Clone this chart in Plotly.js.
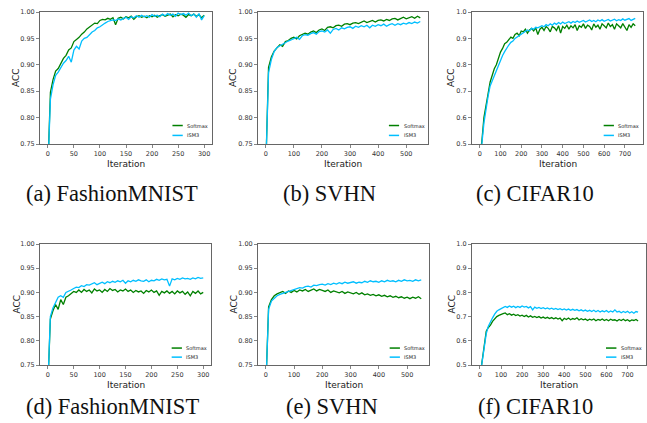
<!DOCTYPE html>
<html>
<head>
<meta charset="utf-8">
<script src="https://cdn.plot.ly/plotly-3.0.1.min.js"></script>
<style>html,body{margin:0;padding:0;background:#fff;}#chart{width:647px;height:423px;}</style>
</head>
<body>
<div id="chart"></div>
<script>
// ---------- DATA ----------
const captions = ["(a) FashionMNIST", "(b) SVHN", "(c) CIFAR10", "(d) FashionMNIST", "(e) SVHN", "(f) CIFAR10"];
const seriesNames = ["Softmax", "ISM3"];
const xTitle = "Iteration";
const yTitle = "ACC";

const iter300 = [0,5,10,15,20,25,30,35,40,45,50,55,60,65,70,75,80,85,90,95,100,105,110,115,120,125,130,135,140,145,150,155,160,165,170,175,180,185,190,195,200,205,210,215,220,225,230,235,240,245,250,255,260,265,270,275,280,285,290,295,300];
const iter550 = [0,10,20,30,40,50,60,70,80,90,100,110,120,130,140,150,160,170,180,190,200,210,220,230,240,250,260,270,280,290,300,310,320,330,340,350,360,370,380,390,400,410,420,430,440,450,460,470,480,490,500,510,520,530,540,550];
const iter750 = [0,10,20,30,40,50,60,70,80,90,100,110,120,130,140,150,160,170,180,190,200,210,220,230,240,250,260,270,280,290,300,310,320,330,340,350,360,370,380,390,400,410,420,430,440,450,460,470,480,490,500,510,520,530,540,550,560,570,580,590,600,610,620,630,640,650,660,670,680,690,700,710,720,730,740,750];

// (a) FashionMNIST
const aSoftmax = [0.700,0.848,0.872,0.888,0.893,0.902,0.912,0.918,0.928,0.932,0.944,0.948,0.952,0.958,0.962,0.968,0.972,0.975,0.979,0.978,0.984,0.986,0.985,0.988,0.986,0.989,0.976,0.988,0.990,0.987,0.991,0.989,0.992,0.986,0.991,0.993,0.990,0.992,0.989,0.993,0.991,0.994,0.990,0.993,0.995,0.992,0.994,0.996,0.991,0.995,0.993,0.996,0.994,0.990,0.995,0.993,0.996,0.992,0.995,0.989,0.994];
const aISM3 = [0.700,0.835,0.862,0.880,0.886,0.895,0.903,0.908,0.916,0.905,0.928,0.935,0.930,0.945,0.950,0.952,0.958,0.962,0.965,0.970,0.972,0.976,0.979,0.982,0.983,0.985,0.984,0.987,0.985,0.988,0.990,0.986,0.991,0.989,0.993,0.990,0.994,0.991,0.993,0.990,0.995,0.992,0.994,0.991,0.996,0.993,0.997,0.994,0.996,0.992,0.998,0.995,0.997,0.994,0.998,0.993,0.996,0.990,0.997,0.985,0.993];
// (b) SVHN
const bSoftmax = [0.700,0.895,0.915,0.926,0.932,0.938,0.935,0.944,0.946,0.950,0.952,0.949,0.955,0.957,0.960,0.958,0.962,0.964,0.961,0.966,0.968,0.965,0.971,0.972,0.970,0.974,0.975,0.973,0.977,0.978,0.976,0.979,0.980,0.978,0.981,0.983,0.980,0.982,0.984,0.981,0.984,0.985,0.983,0.986,0.984,0.987,0.988,0.985,0.988,0.990,0.987,0.989,0.991,0.988,0.992,0.989];
const bISM3 = [0.700,0.885,0.910,0.925,0.933,0.936,0.940,0.942,0.945,0.947,0.950,0.952,0.948,0.955,0.957,0.956,0.959,0.961,0.958,0.963,0.964,0.962,0.966,0.960,0.967,0.969,0.966,0.970,0.968,0.971,0.972,0.969,0.973,0.971,0.974,0.972,0.975,0.970,0.975,0.973,0.976,0.974,0.977,0.973,0.976,0.978,0.975,0.978,0.976,0.979,0.977,0.980,0.978,0.981,0.979,0.982];
// (c) CIFAR10
const cSoftmax = [0.450,0.510,0.600,0.655,0.690,0.735,0.760,0.785,0.800,0.825,0.848,0.862,0.880,0.885,0.895,0.905,0.900,0.915,0.920,0.910,0.928,0.925,0.935,0.920,0.932,0.938,0.928,0.940,0.915,0.935,0.942,0.930,0.945,0.938,0.925,0.945,0.940,0.930,0.948,0.920,0.945,0.938,0.950,0.935,0.948,0.940,0.952,0.930,0.948,0.942,0.955,0.938,0.950,0.945,0.932,0.955,0.942,0.950,0.935,0.955,0.948,0.940,0.958,0.945,0.952,0.935,0.955,0.948,0.940,0.956,0.945,0.930,0.952,0.942,0.955,0.948];
const cISM3 = [0.450,0.500,0.580,0.640,0.680,0.720,0.740,0.760,0.780,0.800,0.820,0.835,0.850,0.865,0.875,0.885,0.890,0.900,0.905,0.912,0.918,0.922,0.928,0.932,0.928,0.938,0.935,0.942,0.940,0.945,0.948,0.944,0.952,0.948,0.955,0.950,0.958,0.953,0.960,0.955,0.962,0.956,0.960,0.963,0.958,0.964,0.960,0.966,0.961,0.965,0.968,0.962,0.966,0.970,0.964,0.968,0.963,0.970,0.966,0.971,0.965,0.969,0.972,0.966,0.970,0.973,0.967,0.971,0.968,0.974,0.969,0.972,0.975,0.968,0.973,0.976];
// (d) FashionMNIST
const dSoftmax = [0.700,0.845,0.862,0.875,0.865,0.885,0.875,0.890,0.893,0.898,0.902,0.900,0.905,0.900,0.906,0.902,0.905,0.899,0.907,0.903,0.905,0.900,0.906,0.902,0.908,0.904,0.906,0.901,0.905,0.903,0.907,0.902,0.905,0.900,0.904,0.901,0.903,0.898,0.904,0.901,0.905,0.900,0.903,0.894,0.902,0.899,0.903,0.898,0.902,0.897,0.903,0.899,0.902,0.896,0.901,0.893,0.902,0.898,0.903,0.897,0.900];
const dISM3 = [0.700,0.850,0.868,0.880,0.890,0.893,0.890,0.900,0.902,0.905,0.908,0.911,0.910,0.914,0.912,0.916,0.915,0.918,0.920,0.916,0.919,0.921,0.918,0.922,0.920,0.923,0.921,0.924,0.922,0.925,0.919,0.924,0.922,0.925,0.923,0.926,0.924,0.923,0.926,0.922,0.925,0.924,0.927,0.925,0.928,0.926,0.927,0.913,0.928,0.926,0.929,0.927,0.930,0.928,0.929,0.927,0.930,0.928,0.931,0.929,0.930];
// (e) SVHN
const eSoftmax = [0.700,0.870,0.885,0.893,0.897,0.899,0.902,0.898,0.903,0.900,0.904,0.901,0.905,0.903,0.906,0.902,0.905,0.907,0.903,0.906,0.904,0.902,0.905,0.900,0.903,0.901,0.899,0.902,0.898,0.901,0.899,0.897,0.900,0.896,0.899,0.895,0.897,0.894,0.896,0.893,0.895,0.892,0.894,0.891,0.893,0.890,0.892,0.889,0.891,0.888,0.890,0.887,0.890,0.888,0.891,0.887];
const eISM3 = [0.700,0.865,0.882,0.888,0.893,0.896,0.898,0.901,0.903,0.905,0.906,0.908,0.910,0.909,0.912,0.913,0.911,0.915,0.914,0.916,0.917,0.915,0.918,0.916,0.919,0.917,0.920,0.918,0.921,0.919,0.920,0.922,0.919,0.921,0.920,0.923,0.921,0.924,0.922,0.923,0.921,0.924,0.922,0.925,0.923,0.924,0.922,0.925,0.923,0.926,0.924,0.925,0.923,0.926,0.924,0.926];
// (f) CIFAR10
const fSoftmax = [0.450,0.510,0.580,0.640,0.655,0.665,0.680,0.690,0.700,0.705,0.710,0.712,0.715,0.708,0.712,0.706,0.710,0.704,0.708,0.702,0.706,0.700,0.705,0.698,0.703,0.697,0.701,0.696,0.700,0.694,0.698,0.693,0.697,0.692,0.696,0.691,0.695,0.690,0.694,0.683,0.693,0.688,0.694,0.687,0.692,0.689,0.695,0.686,0.691,0.687,0.690,0.684,0.689,0.686,0.690,0.683,0.688,0.685,0.690,0.684,0.688,0.683,0.689,0.685,0.687,0.682,0.688,0.684,0.689,0.683,0.687,0.681,0.686,0.684,0.688,0.682];
const fISM3 = [0.450,0.505,0.575,0.630,0.660,0.680,0.695,0.710,0.722,0.728,0.733,0.737,0.742,0.738,0.744,0.739,0.743,0.737,0.742,0.738,0.744,0.739,0.742,0.736,0.741,0.728,0.739,0.734,0.738,0.733,0.737,0.732,0.736,0.731,0.735,0.730,0.734,0.729,0.733,0.728,0.732,0.727,0.731,0.726,0.730,0.726,0.729,0.724,0.728,0.723,0.727,0.722,0.726,0.721,0.726,0.720,0.725,0.719,0.724,0.720,0.725,0.718,0.723,0.719,0.728,0.719,0.722,0.716,0.721,0.717,0.722,0.715,0.720,0.714,0.721,0.718];

// ---------- STYLE / LAYOUT ----------
const colSoftmax = "#008000";
const colISM3 = "#00bfff";

const panels = [
  {x: iter300, s: aSoftmax, m: aISM3, xr: [-15, 315], dt: 50, yr: [0.75, 1.0], ydt: 0.05, yf: ".2f", xd: [40, 212], yd: [12, 144], yt: 16, xt: 164},
  {x: iter550, s: bSoftmax, m: bISM3, xr: [-27.5, 577.5], dt: 100, yr: [0.75, 1.0], ydt: 0.05, yf: ".2f", xd: [258, 428], yd: [12, 144], yt: 233, xt: 164},
  {x: iter750, s: cSoftmax, m: cISM3, xr: [-37.5, 787.5], dt: 100, yr: [0.5, 1.0], ydt: 0.1, yf: ".1f", xd: [472, 643], yd: [12, 144], yt: 451, xt: 164},
  {x: iter300, s: dSoftmax, m: dISM3, xr: [-15, 315], dt: 50, yr: [0.75, 1.0], ydt: 0.05, yf: ".2f", xd: [40, 211], yd: [244, 365], yt: 16, xt: 385},
  {x: iter550, s: eSoftmax, m: eISM3, xr: [-27.5, 577.5], dt: 100, yr: [0.75, 1.0], ydt: 0.05, yf: ".2f", xd: [258, 429], yd: [244, 365], yt: 233, xt: 385},
  {x: iter750, s: fSoftmax, m: fISM3, xr: [-37.5, 787.5], dt: 100, yr: [0.5, 1.0], ydt: 0.1, yf: ".1f", xd: [472, 646], yd: [244, 365], yt: 451, xt: 385}
];
const capPos = [[112, 193], [330, 193], [535, 193], [113, 406], [332, 406], [535, 406]];

const W = 647, H = 423;
const traces = [];
const layout = {
  width: W, height: H,
  margin: {l: 0, r: 0, t: 0, b: 0},
  paper_bgcolor: "#ffffff", plot_bgcolor: "#ffffff",
  showlegend: false,
  font: {family: "DejaVu Sans", color: "#333"},
  annotations: [], shapes: []
};
const titleFont = {family: "DejaVu Sans", size: 9, color: "#222"};

panels.forEach((p, i) => {
  const n = i + 1;
  const xa = n === 1 ? "x" : "x" + n;
  const ya = n === 1 ? "y" : "y" + n;
  traces.push({x: p.x, y: p.s, xaxis: xa, yaxis: ya, type: "scatter", mode: "lines", name: seriesNames[0],
               line: {color: colSoftmax, width: 1.3}, hoverinfo: "skip"});
  traces.push({x: p.x, y: p.m, xaxis: xa, yaxis: ya, type: "scatter", mode: "lines", name: seriesNames[1],
               line: {color: colISM3, width: 1.3}, hoverinfo: "skip"});
  const common = {showline: true, mirror: true, linecolor: "#666", linewidth: 1, ticks: "outside",
                  ticklen: 3, tickwidth: 0.8, tickcolor: "#666", showgrid: false, zeroline: false,
                  tickfont: {family: "DejaVu Sans", size: 6.5, color: "#333"}, fixedrange: true};
  layout["xaxis" + (n === 1 ? "" : n)] = Object.assign({}, common, {
    domain: [p.xd[0] / W, p.xd[1] / W], anchor: ya, range: p.xr, tick0: 0, dtick: p.dt
  });
  layout["yaxis" + (n === 1 ? "" : n)] = Object.assign({}, common, {
    domain: [1 - p.yd[1] / H, 1 - p.yd[0] / H], anchor: xa, range: p.yr, tick0: p.yr[0], dtick: p.ydt, tickformat: p.yf
  });
  // axis titles
  layout.annotations.push({text: xTitle, xref: "paper", yref: "paper", x: (p.xd[0] + p.xd[1]) / 2 / W, y: 1 - p.xt / H,
    xanchor: "center", yanchor: "middle", showarrow: false, font: titleFont});
  layout.annotations.push({text: yTitle, xref: "paper", yref: "paper", x: p.yt / W, y: 1 - (p.yd[0] + p.yd[1]) / 2 / H,
    xanchor: "center", yanchor: "middle", textangle: -90, showarrow: false, font: titleFont});
  // caption
  layout.annotations.push({text: captions[i], xref: "paper", yref: "paper", x: capPos[i][0] / W, y: 1 - capPos[i][1] / H,
    xanchor: "center", yanchor: "middle", showarrow: false, font: {family: "Liberation Serif", size: 22.5, color: "#111"}});
  // legend (drawn manually to match the compact style)
  const rows = [[0.14, colSoftmax, seriesNames[0]], [0.065, colISM3, seriesNames[1]]];
  rows.forEach(r => {
    layout.shapes.push({type: "line", xref: xa + " domain", yref: ya + " domain", x0: 0.77, x1: 0.83, y0: r[0], y1: r[0],
      line: {color: r[1], width: 1.5}});
    layout.annotations.push({text: r[2], xref: xa + " domain", yref: ya + " domain", x: 0.845, y: r[0],
      xanchor: "left", yanchor: "middle", showarrow: false, font: {family: "DejaVu Sans", size: 5, color: "#222"}});
  });
});

Plotly.newPlot("chart", traces, layout, {displayModeBar: false, staticPlot: true});
</script>
</body>
</html>
